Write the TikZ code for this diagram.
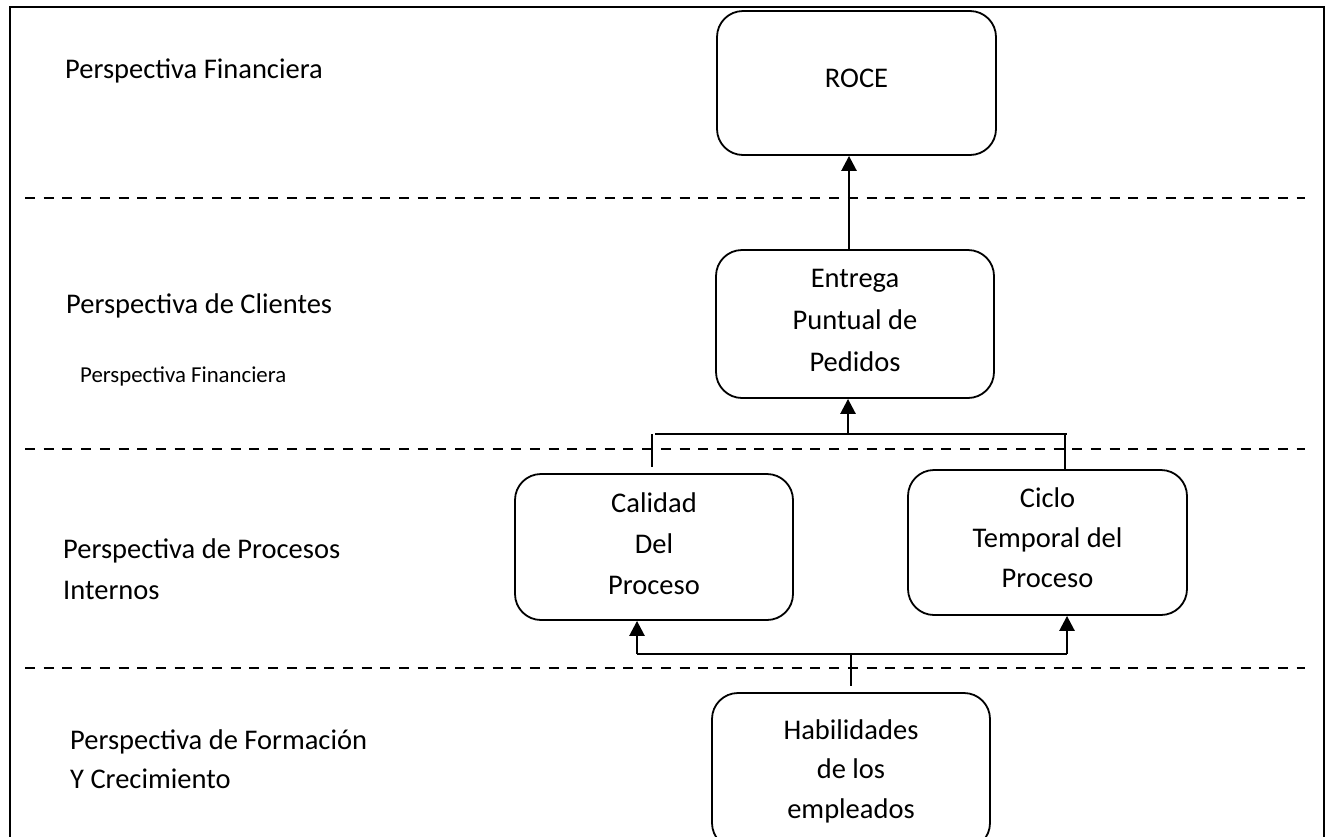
\documentclass[tikz,border=0pt]{standalone}
\usepackage{fontspec}
\setmainfont{Carlito}
\usetikzlibrary{arrows.meta}
% zero-width strut that adds depth below the last line of a box text
\newcommand{\dropby}[1]{\rule[-#1]{0pt}{0pt}}
\begin{document}
\begin{tikzpicture}[x=1pt,y=-1pt,
  stagebox/.style={draw,line width=1.8pt,rounded corners=26pt,align=center,
    minimum width=278pt,minimum height=146pt,inner sep=0pt},
  lbl/.style={align=left,inner sep=0pt,font=\fontsize{28.5}{40}\selectfont},
  sep/.style={line width=2.4pt,dash pattern=on 10pt off 8.7pt},
  link/.style={line width=2pt},
  uparrow/.style={line width=2.6pt,-{Triangle[width=15pt,length=15pt]}}]
\useasboundingbox (0,0) rectangle (1332,836);
\clip (0,0) rectangle (1332,836);
\fill[white] (0,0) rectangle (1332,836);
% outer frame, running off the bottom edge
\draw[line width=2.4pt] (10,900) -- (10,7) -- (1324,7) -- (1324,900);

% separators between the perspectives
\draw[sep] (25,198) -- (1305,198);
\draw[sep] (25,449) -- (1305,449);
\draw[sep] (25,668) -- (1305,668);

% perspective labels
\node[lbl,anchor=base west] (pfin) at (65,78) {Perspectiva Financiera};
\node[lbl,anchor=base west] (pcli) at (66,313) {Perspectiva de Clientes};
\node[lbl,anchor=base west,font=\fontsize{22.8}{28}\selectfont] (pfin2) at (80,382) {Perspectiva Financiera};
\node[lbl,anchor=north west] (pproc) at (63,539) {Perspectiva de Procesos\\Internos};
\node[lbl,anchor=north west,font=\fontsize{28.5}{39}\selectfont] (pform) at (70,729) {Perspectiva de Formación\\Y Crecimiento};

% objectives
\node[stagebox,minimum width=279pt,minimum height=144pt,font=\fontsize{28.5}{42}\selectfont] (roce) at (856.5,83) {ROCE\dropby{9.6pt}};
\node[stagebox,minimum height=148pt,font=\fontsize{28.5}{42}\selectfont] (entrega) at (855,324) {Entrega\\Puntual de\\Pedidos\dropby{8pt}};
\node[stagebox,font=\fontsize{28.5}{41}\selectfont] (calidad) at (654,547) {Calidad\\Del\\Proceso\dropby{6pt}};
\node[stagebox,minimum width=279pt,minimum height=145pt,font=\fontsize{28.5}{40}\selectfont] (ciclo) at (1047.5,542.5) {Ciclo\\Temporal del\\Proceso\dropby{9pt}};
\node[stagebox,minimum height=156pt,font=\fontsize{28.5}{39.5}\selectfont] (habil) at (851,771) {Habilidades\\de los\\empleados};

% ROCE <- Entrega
\draw[uparrow] (entrega.north -| 849,0) -- (roce.south -| 849,0);

% Entrega <- {Calidad, Ciclo}
\coordinate (ja) at (848,434);
\coordinate (jal) at (652,434);
\coordinate (jar) at (1065,434);
\draw[link] (655,434) -- (1067,434);
\draw[link] (jal) -- (652,467);
\draw[link] (jar) -- (jar |- ciclo.north);
\draw[uparrow] (ja) -- (ja |- entrega.south);

% Habilidades -> {Calidad, Ciclo}
\coordinate (jb) at (851,654);
\coordinate (jbl) at (637,654);
\coordinate (jbr) at (1067,654);
\draw[link] (jbl) -- (jbr);
\draw[link] (jb) -- (851,686);
\draw[uparrow] (jbl) -- (jbl |- calidad.south);
\draw[uparrow] (jbr) -- (jbr |- ciclo.south);
\end{tikzpicture}
\end{document}
